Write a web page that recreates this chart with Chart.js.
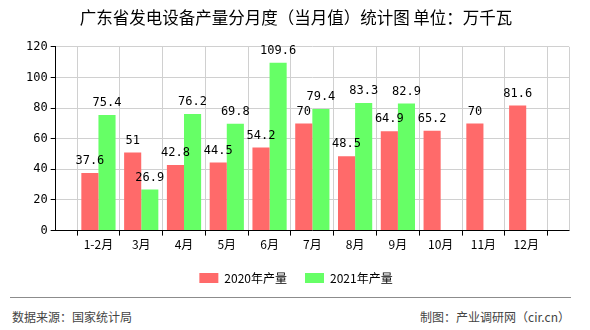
<!DOCTYPE html>
<html><head><meta charset="utf-8">
<script src="https://cdn.jsdelivr.net/npm/chart.js@4/dist/chart.umd.min.js"></script>
<style>
html,body{margin:0;padding:0;background:#fff;}
#wrap{position:relative;width:590px;height:330px;}
#box{position:absolute;left:0;top:0;width:590px;height:294px;}
#line{position:absolute;left:10px;top:297px;width:561px;height:0;border-top:1px solid #8c8c8c;}
.ft{position:absolute;top:308px;font:12px/18px "Noto Sans CJK SC",sans-serif;color:#444;}
</style></head><body>
<div id="wrap">
<div id="box"><canvas id="c"></canvas></div>
<div id="line"></div>
<div class="ft" style="left:12px;">数据来源：国家统计局</div>
<div class="ft" style="right:20px;">制图：产业调研网（cir.cn）</div>
</div>
<script>
const categories = ['', '1-2月', '3月', '4月', '5月', '6月', '7月', '8月', '9月', '10月', '11月', '12月', ''];
const series2020 = [null, 37.6, 51, 42.8, 44.5, 54.2, 70, 48.5, 64.9, 65.2, 70, 81.6, null];
const series2021 = [null, 75.4, 26.9, 76.2, 69.8, 109.6, 79.4, 83.3, 82.9, null, null, null, null];
const seriesNames = ['2020年产量', '2021年产量'];
const yTicks = [0, 20, 40, 60, 80, 100, 120];

const labelPlugin = {
  id: 'vlabels',
  afterDatasetsDraw(chart) {
    const ctx = chart.ctx;
    ctx.save();
    ctx.font = '12px "DejaVu Sans Mono", monospace';
    ctx.fillStyle = '#000';
    ctx.textAlign = 'center';
    ctx.textBaseline = 'bottom';
    chart.data.datasets.forEach((ds, i) => {
      const meta = chart.getDatasetMeta(i);
      meta.data.forEach((el, j) => {
        const v = ds.data[j];
        if (v === null || v === undefined) return;
        ctx.fillText(String(v), el.x, el.y - 6);
      });
    });
    ctx.restore();
  }
};

new Chart(document.getElementById('c'), {
  type: 'bar',
  data: {
    labels: categories,
    datasets: [
      { label: seriesNames[0], data: series2020, backgroundColor: '#ff6a6a', categoryPercentage: 0.8, barPercentage: 1.0 },
      { label: seriesNames[1], data: series2021, backgroundColor: '#66ff66', categoryPercentage: 0.8, barPercentage: 1.0 }
    ]
  },
  options: {
    responsive: true,
    maintainAspectRatio: false,
    animation: false,
    layout: { padding: { left: 23, right: 21, top: 4, bottom: 0 } },
    plugins: {
      title: { display: true, text: '广东省发电设备产量分月度（当月值）统计图 单位：万千瓦', color: '#000',
        font: { size: 16.5, family: '"Noto Sans CJK SC", sans-serif', weight: 'normal' }, padding: { top: 4, bottom: 19 } },
      legend: { position: 'bottom', labels: { boxWidth: 19, boxHeight: 10, color: '#000', padding: 18,
        font: { size: 12, family: '"Noto Sans CJK SC", sans-serif' } } },
      tooltip: { enabled: false }
    },
    scales: {
      x: {
        offset: false,
        grid: { color: '#d0d0d0', drawTicks: true, tickLength: 5, tickColor: '#000' },
        border: { color: '#000' },
        ticks: { color: '#000', autoSkip: false, maxRotation: 0, font: { size: 12, family: '"Noto Sans CJK SC", sans-serif' }, padding: 2 }
      },
      y: {
        min: 0, max: 120,
        afterBuildTicks(ax) { ax.ticks = yTicks.map(v => ({ value: v })); },
        grid: { color: '#d0d0d0', tickLength: 5, tickColor: '#000' },
        border: { color: '#000' },
        ticks: { color: '#000', font: { size: 12, family: '"DejaVu Sans Mono", monospace' }, padding: 3 }
      }
    }
  },
  plugins: [labelPlugin, {
    id: 'rightBorder',
    afterDraw(chart) {
      const a = chart.chartArea, ctx = chart.ctx;
      ctx.save(); ctx.strokeStyle = '#d0d0d0'; ctx.lineWidth = 1;
      ctx.beginPath(); ctx.moveTo(Math.round(a.right) + 0.5, a.top); ctx.lineTo(Math.round(a.right) + 0.5, a.bottom); ctx.stroke();
      ctx.restore();
    }
  }]
});
</script>
</body></html>
